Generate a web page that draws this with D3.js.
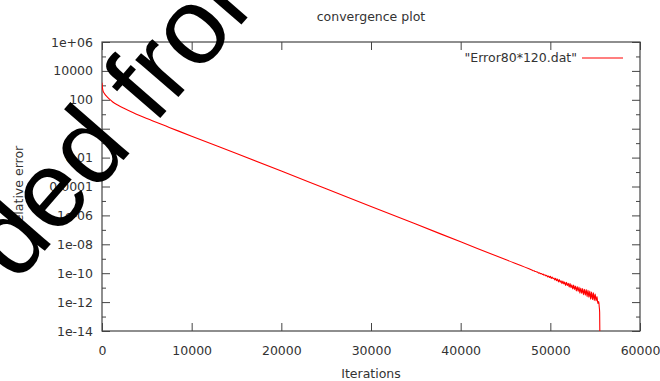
<!DOCTYPE html>
<html>
<head>
<meta charset="utf-8">
<script src="https://cdn.jsdelivr.net/npm/d3@7"></script>
<style>
  body { margin: 0; background: #fff; }
  text { font-family: "DejaVu Sans", sans-serif; fill: #333; }
</style>
</head>
<body>
<div class="container"></div>
<script>
// iterations vs relative error
var iterations = [
    0, 40, 100, 250, 500, 800, 1200, 1800, 2500, 3500,
    5000, 7500, 10000, 15000, 20000, 25000, 30000, 35000, 40000, 45000,
    48000, 48100, 48200, 48300, 48400, 48500, 48600, 48700, 48800, 48900,
    49000, 49100, 49200, 49300, 49400, 49500, 49600, 49700, 49800, 49900,
    50000, 50100, 50200, 50300, 50400, 50500, 50600, 50700, 50800, 50900,
    51000, 51100, 51200, 51300, 51400, 51500, 51600, 51700, 51800, 51900,
    52000, 52100, 52200, 52300, 52400, 52500, 52600, 52700, 52800, 52900,
    53000, 53100, 53200, 53300, 53400, 53500, 53600, 53700, 53800, 53900,
    54000, 54100, 54200, 54300, 54400, 54500, 54600, 54700, 54800, 54900,
    55000, 55100, 55200, 55300, 55400, 55450, 55500, 55550
];
var relError = [
    1500, 800, 447, 282, 178, 115, 71, 42, 25, 12.6,
    5.0, 1.23, 0.30, 0.019, 1.17e-3, 7.0e-5, 4.2e-6, 2.5e-7, 1.48e-8, 8.8e-10,
    1.6e-10, 1.5e-10, 1.45e-10, 1.3e-10, 1.3e-10, 1.2e-10, 1.15e-10, 1.02e-10, 1.05e-10, 9.2e-11,
    9.6e-11, 8.2e-11, 8.6e-11, 7.2e-11, 7.9e-11, 6.5e-11, 7.2e-11, 5.5e-11, 6.4e-11, 5.0e-11,
    6.0e-11, 4.3e-11, 5.4e-11, 4.2e-11, 4.6e-11, 3.4e-11, 4.4e-11, 3.0e-11, 3.9e-11, 2.5e-11,
    3.6e-11, 2.4e-11, 3.0e-11, 1.9e-11, 2.9e-11, 1.8e-11, 2.4e-11, 1.4e-11, 2.3e-11, 1.4e-11,
    2.0e-11, 1.1e-11, 1.9e-11, 1.0e-11, 1.6e-11, 8.0e-12, 1.5e-11, 7.5e-12, 1.3e-11, 5.8e-12,
    1.2e-11, 5.5e-12, 1.1e-11, 4.2e-12, 9.5e-12, 4.0e-12, 8.8e-12, 3.2e-12, 7.8e-12, 3.0e-12,
    7.4e-12, 2.4e-12, 6.5e-12, 2.2e-12, 5.8e-12, 1.6e-12, 5.0e-12, 1.5e-12, 4.4e-12, 1.3e-12,
    3.6e-12, 1.2e-12, 2.4e-12, 8e-13, 1.1e-12, 5e-13, 2e-13, 1e-16
];
var xTicks = [0, 10000, 20000, 30000, 40000, 50000, 60000];
var yTicks = [1e6, 1e4, 1e2, 1, 1e-2, 1e-4, 1e-6, 1e-8, 1e-10, 1e-12, 1e-14];
var yTickLabels = ['1e+06', '10000', '100', '1', '0.01', '0.0001', '1e-06', '1e-08', '1e-10', '1e-12', '1e-14'];
var yMinorTicks = [1e5, 1e3, 10, 0.1, 1e-3, 1e-5, 1e-7, 1e-9, 1e-11, 1e-13];

var translate = function (x, y) {
    return 'translate(' + x + ', ' + y + ')';
};

var visualize = function () {
    const WIDTH = 660;
    const HEIGHT = 381;
    const LEFT = 102, RIGHT = 640, TOP = 42, BOTTOM = 331;

    var xScale = d3.scaleLinear().domain([0, 60000]).range([LEFT, RIGHT]);
    var yScale = d3.scaleLog().domain([1e-14, 1e6]).range([BOTTOM, TOP]);

    var svg = d3.select('.container').append('svg')
        .attr('width', WIDTH)
        .attr('height', HEIGHT);

    svg.append('clipPath').attr('id', 'plotClip')
        .append('rect')
        .attr('x', LEFT).attr('y', TOP)
        .attr('width', RIGHT - LEFT).attr('height', BOTTOM - TOP);

    var tickColor = '#444';

    // axes with mirrored ticks
    var addAxis = function (axis, x, y, labels) {
        var g = svg.append('g').attr('transform', translate(x, y)).call(axis);
        g.select('.domain').remove();
        g.selectAll('line').attr('stroke', tickColor);
        g.selectAll('text')
            .style('font-size', '12.5px')
            .attr('fill', '#333');
        if (!labels) g.selectAll('text').remove();
        return g;
    };

    var fmtY = function (d) { return yTickLabels[yTicks.indexOf(d)]; };

    var gx = addAxis(d3.axisTop(xScale).tickValues(xTicks).tickSize(8).tickFormat(d3.format('d')), 0, BOTTOM, true);
    gx.selectAll('text').attr('y', 24).attr('dy', 0);
    addAxis(d3.axisBottom(xScale).tickValues(xTicks).tickSize(8), 0, TOP, false);

    var gy = addAxis(d3.axisRight(yScale).tickValues(yTicks).tickSize(8).tickFormat(fmtY), LEFT, 0, true);
    gy.selectAll('text').attr('x', -9).attr('text-anchor', 'end');
    addAxis(d3.axisRight(yScale).tickValues(yMinorTicks).tickSize(4), LEFT, 0, false);
    addAxis(d3.axisLeft(yScale).tickValues(yTicks).tickSize(8), RIGHT, 0, false);
    addAxis(d3.axisLeft(yScale).tickValues(yMinorTicks).tickSize(4), RIGHT, 0, false);

    // plot border
    svg.append('rect')
        .attr('x', LEFT).attr('y', TOP)
        .attr('width', RIGHT - LEFT).attr('height', BOTTOM - TOP)
        .attr('fill', 'none')
        .attr('stroke', tickColor)
        .attr('stroke-width', 1.2);

    // the data line
    var points = iterations.map(function (it, i) { return {x: it, y: relError[i]}; });
    var line = d3.line()
        .curve(d3.curveMonotoneX)
        .x(function (d) { return xScale(d.x); })
        .y(function (d) { return yScale(d.y); });
    svg.append('path')
        .datum(points)
        .attr('clip-path', 'url(#plotClip)')
        .attr('d', line)
        .attr('fill', 'none')
        .attr('stroke', '#f00')
        .attr('stroke-width', 1.1)
        .attr('stroke-linejoin', 'round');

    // title, axis labels
    svg.append('text')
        .attr('x', (LEFT + RIGHT) / 2).attr('y', 21)
        .attr('text-anchor', 'middle')
        .style('font-size', '12.5px')
        .text('convergence plot');
    svg.append('text')
        .attr('x', (LEFT + RIGHT) / 2).attr('y', 378)
        .attr('text-anchor', 'middle')
        .style('font-size', '12.5px')
        .text('Iterations');
    svg.append('text')
        .attr('transform', translate(23, (TOP + BOTTOM) / 2) + ' rotate(-90)')
        .attr('text-anchor', 'middle')
        .style('font-size', '12.5px')
        .text('relative error');

    // legend
    svg.append('text')
        .attr('x', 577).attr('y', 62)
        .attr('text-anchor', 'end')
        .style('font-size', '12.5px')
        .text('"Error80*120.dat"');
    svg.append('line')
        .attr('x1', 582).attr('x2', 623)
        .attr('y1', 58).attr('y2', 58)
        .attr('stroke', '#f00')
        .attr('stroke-width', 1.1);

    // watermark over the picture
    svg.append('text')
        .attr('transform', translate(16, 284) + ' rotate(-49)')
        .style('font-family', '"Liberation Sans", Arial, sans-serif')
        .style('font-size', '108px')
        .style('fill', '#000')
        .text('ded from');
};

window.onload = visualize;
</script>
</body>
</html>
